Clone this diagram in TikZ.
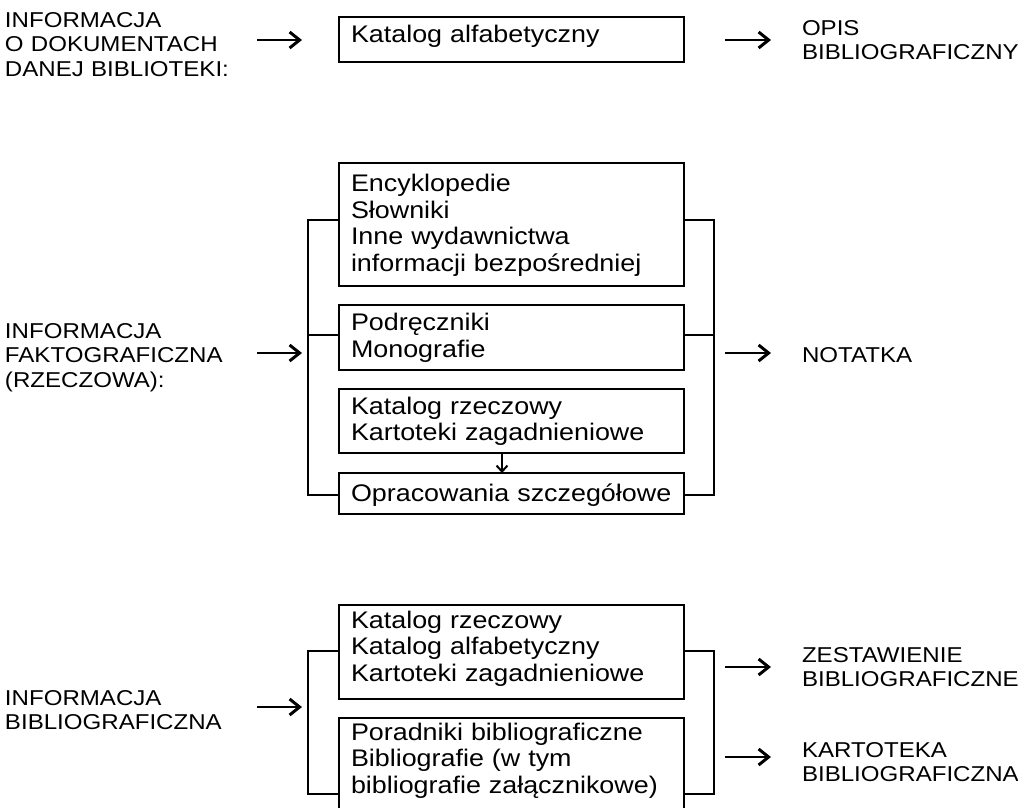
\documentclass[tikz,border=0pt]{standalone}
\usepackage{fontspec}
\setmainfont{Liberation Sans}[FakeStretch=1.12]
\usetikzlibrary{arrows.meta}
\newcommand\boxfont{\fontsize{24}{26.7}\selectfont}
\newcommand\labfont{\fontsize{21.5}{24.7}\selectfont}
\tikzset{
  box/.style={draw, line width=1.4pt, outer sep=0pt, anchor=north west, inner xsep=12pt, inner ysep=0pt, text width=321pt, align=left, font=\boxfont},
  lab/.style={anchor=base west, inner sep=0pt, outer sep=0pt, text width=240pt, align=left, font=\labfont},
  link/.style={line width=1.4pt},
  arr/.style={line width=2.6pt, -{Straight Barb[length=10pt,width=16pt,line width=3pt]}},
  smallarr/.style={line width=1.8pt, -{Straight Barb[length=6pt,width=11pt,line width=2pt]}},
}

\begin{document}
\begin{tikzpicture}[x=1pt,y=-1pt]
    \useasboundingbox (0,0) rectangle (1018,807);
    % Left labels
    \node[lab] (lab1) at (5,27)  {INFORMACJA\\O DOKUMENTACH\\DANEJ BIBLIOTEKI:};
    \node[lab] (lab2) at (5,338) {INFORMACJA\\FAKTOGRAFICZNA\\(RZECZOWA):};
    \node[lab] (lab3) at (5,705) {INFORMACJA\\BIBLIOGRAFICZNA};
    % Right labels
    \node[lab] (out1)  at (802,35)  {OPIS\\BIBLIOGRAFICZNY};
    \node[lab] (out2)  at (802,362) {NOTATKA};
    \node[lab] (out3a) at (802,662) {ZESTAWIENIE\\BIBLIOGRAFICZNE};
    \node[lab] (out3b) at (802,757) {KARTOTEKA\\BIBLIOGRAFICZNA};
    % Boxes
    \node[box, text height=25pt, text depth=20pt]   (kat) at (339,17)  {Katalog alfabetyczny};
    \node[box, text height=28.5pt, text depth=94.5pt] (b1) at (339,163) {Encyklopedie\\Słowniki\\Inne wydawnictwa\\informacji bezpośredniej};
    \node[box, text height=25.5pt, text depth=39.5pt] (b2) at (339,305) {Podręczniki\\Monografie};
    \node[box, text height=25pt, text depth=39pt]   (b3) at (339,389) {Katalog rzeczowy\\Kartoteki zagadnieniowe};
    \node[box, text height=28.5pt, text depth=12.5pt] (b4) at (339,473) {Opracowania szczegółowe};
    \node[box, text height=23pt, text depth=71pt]   (b5) at (339,605) {Katalog rzeczowy\\Katalog alfabetyczny\\Kartoteki zagadnieniowe};
    \node[box, text height=22pt, text depth=70pt]   (b6) at (339,718) {Poradniki bibliograficzne\\Bibliografie (w tym\\bibliografie załącznikowe)};
    % Bracket corners
    \coordinate (lm1) at (308,220); \coordinate (lm2) at (308,335); \coordinate (lm3) at (308,495);
    \coordinate (rm1) at (714,220); \coordinate (rm2) at (714,335); \coordinate (rm3) at (714,495);
    \coordinate (lb1) at (308,651); \coordinate (lb2) at (308,794);
    \coordinate (rb1) at (714,651); \coordinate (rb2) at (714,794);
    % Brackets
    \draw[link] (b1.west |- lm1) -- (lm1) -- (lm3) -- (b4.west |- lm3);
    \draw[link] (b2.west |- lm2) -- (lm2);
    \draw[link] (b1.east |- rm1) -- (rm1) -- (rm3) -- (b4.east |- rm3);
    \draw[link] (b2.east |- rm2) -- (rm2);
    \draw[link] (b5.west |- lb1) -- (lb1) -- (lb2) -- (b6.west |- lb2);
    \draw[link] (b5.east |- rb1) -- (rb1) -- (rb2) -- (b6.east |- rb2);
    % Arrow between b3 and b4
    \coordinate (mid) at (502,0);
    \draw[smallarr] (b3.south -| mid) -- (b4.north -| mid);
    % Input and output arrows
    \foreach \n/\y in {1/40,2/353,3/707} {
        \coordinate (in\n) at (257,\y);
        \coordinate (to\n) at (302,\y);
        \draw[arr] (in\n) -- (to\n);
    }
    \foreach \n/\y in {1/40,2/353,3/667,4/757} {
        \coordinate (from\n) at (725,\y);
        \coordinate (res\n) at (771,\y);
        \draw[arr] (from\n) -- (res\n);
    }
\end{tikzpicture}
\end{document}
